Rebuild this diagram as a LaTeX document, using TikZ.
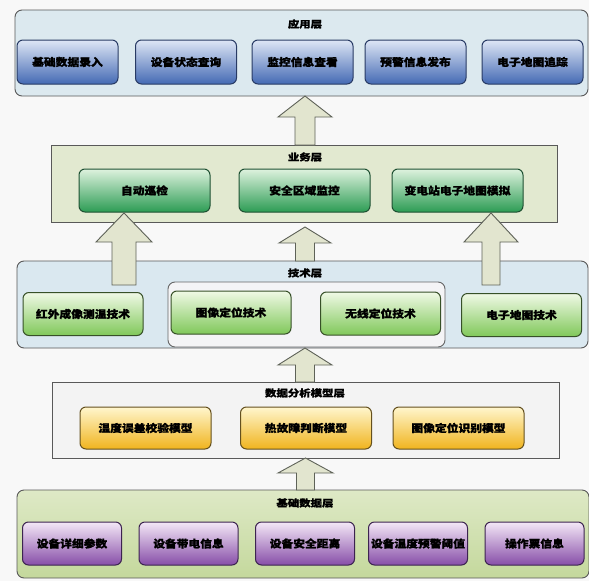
\documentclass[tikz,border=0pt]{standalone}
\usepackage{fontspec}
\newfontfamily\cjk{Noto Sans CJK SC}[FakeStretch=1.12, BoldFeatures={FakeBold=1.2}]
\newfontfamily\cjkt{Noto Sans CJK SC}[FakeStretch=1.2, BoldFeatures={FakeBold=1.2}]
\usetikzlibrary{calc}
\definecolor{bgc}{HTML}{F8F8F8}
\definecolor{arrfill}{HTML}{E2E5CF}
\definecolor{arrdraw}{HTML}{5E6258}
\tikzset{
  layer/.style={draw=#1, line width=0.9pt, inner sep=0pt, outer sep=0pt},
  lbl/.style={font=\cjk\bfseries\fontsize{10.5}{12}\selectfont, text=black},
  ttl/.style={font=\cjkt\bfseries\fontsize{9.5}{11}\selectfont, text=black},
  boxbase/.style={rounded corners=6pt, line width=1pt, inner sep=0pt, outer sep=0pt, lbl},
  blockarrow/.style={draw=arrdraw, fill=arrfill, line width=0.9pt, line join=miter},
}
% #1 tip node/coord, #2 bottom node/coord, #3 x centre (pt), #4 shaft half, #5 head half, #6 head length
\newcommand\blkarrow[6]{%
  \draw[blockarrow] let \p1=(#1), \p2=(#2) in
    (#3pt,\y1) -- (#3pt+#5pt,\y1-#6pt) -- (#3pt+#4pt,\y1-#6pt) -- (#3pt+#4pt,\y2)
    -- (#3pt-#4pt,\y2) -- (#3pt-#4pt,\y1-#6pt) -- (#3pt-#5pt,\y1-#6pt) -- cycle;}
\begin{document}
\begin{tikzpicture}[x=1pt,y=-1pt]
\fill[bgc] (0,0) rectangle (589,581);
\useasboundingbox (0,0) rectangle (589,581);

% ---------- layers ----------
\node[layer=gray!70!black, fill={rgb,255:red,220;green,233;blue,239}, rounded corners=7pt,
      minimum width=573pt, minimum height=86pt] (app) at (301.5,53) {};
\node[layer=gray!70!black, fill={rgb,255:red,226;green,233;blue,208},
      minimum width=506pt, minimum height=77pt] (bus) at (304,183.5) {};
\node[layer=gray!70!black, fill={rgb,255:red,218;green,232;blue,240}, rounded corners=7pt,
      minimum width=571pt, minimum height=87pt] (tech) at (302.5,304.5) {};
\node[layer=gray!80!black, fill={rgb,255:red,244;green,244;blue,246}, rounded corners=7pt,
      minimum width=277pt, minimum height=65pt] (cont) at (306.5,314.5) {};
\node[layer=gray!70!black, fill={rgb,255:red,243;green,243;blue,243},
      minimum width=507pt, minimum height=76pt] (data) at (305.5,420) {};
\node[layer=gray!70!black, top color={rgb,255:red,222;green,233;blue,198}, bottom color={rgb,255:red,196;green,216;blue,156},
      rounded corners=7pt, minimum width=572pt, minimum height=88pt] (base) at (303,534) {};

% ---------- titles ----------
\node[ttl] (appt) at (305,24) {应用层};
\node[ttl] (bust) at (305,157) {业务层};
\node[ttl] (techt) at (305,273) {技术层};
\node[ttl] (datat) at (305,393) {数据分析模型层};
\node[ttl] (baset) at (305,503) {基础数据层};

% ---------- application layer ----------
\tikzset{abox/.style={boxbase, draw={rgb,255:red,40;green,58;blue,100},
  top color={rgb,255:red,222;green,230;blue,245}, bottom color={rgb,255:red,68;green,106;blue,180},
  minimum width=101pt, minimum height=44pt}}
\node[abox] (a1) at (67.5,62) {基础数据录入};
\node[abox] (a2) at (186,62) {设备状态查询};
\node[abox] (a3) at (302.5,62) {监控信息查看};
\node[abox] (a4) at (415.5,62) {预警信息发布};
\node[abox] (a5) at (532.5,62) {电子地图追踪};

% ---------- business layer ----------
\tikzset{bbox/.style={boxbase, draw={rgb,255:red,30;green,80;blue,50},
  top color={rgb,255:red,222;green,242;blue,222}, bottom color={rgb,255:red,44;green,156;blue,84},
  minimum width=131pt, minimum height=43pt}}
\node[bbox] (b1) at (144.5,190.5) {自动巡检};
\node[bbox] (b2) at (304.5,190.5) {安全区域监控};
\node[bbox] (b3) at (457.5,190.5) {变电站电子地图模拟};

% ---------- technology layer ----------
\tikzset{tbox/.style={boxbase, draw={rgb,255:red,55;green,80;blue,40},
  top color={rgb,255:red,240;green,249;blue,230}, bottom color={rgb,255:red,128;green,200;blue,90},
  minimum width=120pt, minimum height=43pt}}
\node[tbox] (t1) at (83,314) {红外成像测温技术};
\node[tbox] (t2) at (231,312.5) {图像定位技术};
\node[tbox] (t3) at (380.5,313.5) {无线定位技术};
\node[tbox] (t4) at (521.5,315) {电子地图技术};

% ---------- data analysis layer ----------
\tikzset{dbox/.style={boxbase, draw={rgb,255:red,100;green,80;blue,30},
  top color={rgb,255:red,255;green,246;blue,205}, bottom color={rgb,255:red,240;green,180;blue,30},
  minimum width=131pt, minimum height=42pt}}
\node[dbox] (d1) at (145.5,428) {温度误差校验模型};
\node[dbox] (d2) at (306,428) {热故障判断模型};
\node[dbox] (d3) at (458.5,428) {图像定位识别模型};

% ---------- base data layer ----------
\tikzset{fbox/.style={boxbase, draw={rgb,255:red,60;green,35;blue,80},
  top color={rgb,255:red,244;green,232;blue,247}, bottom color={rgb,255:red,135;green,78;blue,168},
  minimum width=99pt, minimum height=43pt}}
\node[fbox] (f1) at (72,543.5) {设备详细参数};
\node[fbox] (f2) at (188.5,543.5) {设备带电信息};
\node[fbox] (f3) at (305,543.5) {设备安全距离};
\node[fbox] (f4) at (418,543.5) {设备温度预警阈值};
\node[fbox] (f5) at (534.5,543.5) {操作票信息};

% ---------- block arrows ----------
\coordinate (lTop) at (124,213);
\coordinate (lBot) at (124,285);
\coordinate (rTop) at (491,213);
\coordinate (rBot) at (491,285);
\coordinate (mTop) at (305,227);
\blkarrow{app.south}{bus.north}{305}{10}{27}{21}
\blkarrow{lTop}{lBot}{124}{12}{28}{29}
\blkarrow{rTop}{rBot}{491}{9}{27}{29}
\blkarrow{mTop}{tech.north}{305}{9.5}{26}{16}
\blkarrow{tech.south}{data.north}{305}{9.5}{27}{17}
\blkarrow{data.south}{base.north}{305.5}{9}{27.5}{15}
\end{tikzpicture}
\end{document}
